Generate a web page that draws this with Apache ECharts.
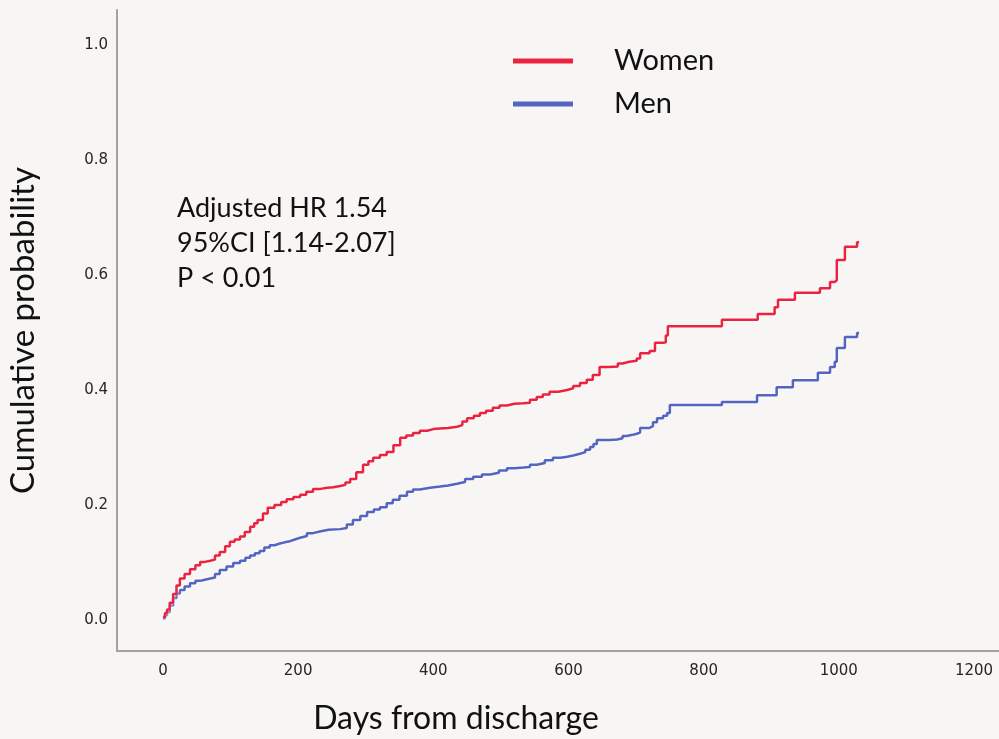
<!DOCTYPE html>
<html>
<head>
<meta charset="utf-8">
<script src="https://cdn.jsdelivr.net/npm/echarts@6/dist/echarts.min.js"></script>
<style>
  html, body { margin: 0; padding: 0; background: #f8f6f4; }
  #chart { width: 999px; height: 739px; }
</style>
</head>
<body>
<div id="chart"></div>
<script>
// ---- Data ----
const seriesNames = ['Women', 'Men'];

const womenDays = [0,3,6,10,15,20,25,32,40,48,55,62,70,77,84,92,99,106,114,121,129,135,140,148,155,165,175,183,193,203,212,222,233,243,252,262,270,277,286,296,304,311,321,331,341,351,360,370,380,391,400,410,422,435,443,450,460,469,478,488,498,509,520,533,543,553,562,572,585,598,607,617,627,636,646,660,673,680,690,701,706,720,728,740,744,747,827,880,905,910,935,972,987,994,997,1009,1027,1030];
const womenProb = [0.005,0.012,0.018,0.030,0.045,0.060,0.072,0.080,0.088,0.095,0.101,0.103,0.105,0.112,0.118,0.128,0.136,0.140,0.145,0.153,0.162,0.168,0.174,0.185,0.195,0.200,0.205,0.210,0.214,0.218,0.223,0.228,0.230,0.231,0.233,0.235,0.239,0.245,0.257,0.270,0.276,0.282,0.287,0.292,0.304,0.317,0.321,0.325,0.329,0.332,0.333,0.334,0.336,0.339,0.345,0.351,0.355,0.360,0.364,0.369,0.373,0.376,0.377,0.378,0.383,0.388,0.392,0.397,0.400,0.403,0.407,0.412,0.418,0.426,0.440,0.441,0.446,0.449,0.451,0.455,0.464,0.468,0.482,0.483,0.495,0.511,0.522,0.532,0.544,0.557,0.569,0.577,0.588,0.591,0.626,0.649,0.657,0.657];

const menDays = [0,3,6,10,15,20,25,32,40,48,55,62,70,77,84,94,104,114,122,129,136,143,150,158,165,173,180,188,195,203,213,222,232,245,262,272,281,292,302,312,321,331,340,350,361,370,380,395,410,422,435,447,459,472,484,497,509,520,533,543,553,565,577,588,598,607,617,625,632,637,642,660,672,680,686,695,701,706,720,725,731,740,746,750,827,879,908,932,969,987,994,997,1009,1027,1030];
const menProb = [0.003,0.008,0.014,0.025,0.038,0.046,0.052,0.058,0.064,0.068,0.070,0.072,0.074,0.080,0.087,0.093,0.099,0.103,0.108,0.112,0.116,0.120,0.126,0.130,0.133,0.135,0.137,0.140,0.143,0.146,0.151,0.154,0.157,0.158,0.160,0.166,0.174,0.181,0.188,0.192,0.196,0.203,0.209,0.216,0.223,0.227,0.230,0.232,0.234,0.237,0.240,0.245,0.249,0.253,0.256,0.260,0.264,0.265,0.266,0.270,0.273,0.278,0.282,0.284,0.286,0.289,0.292,0.296,0.301,0.306,0.313,0.314,0.316,0.320,0.322,0.324,0.326,0.334,0.337,0.344,0.351,0.355,0.360,0.374,0.379,0.391,0.405,0.417,0.430,0.440,0.449,0.473,0.492,0.499,0.499];

const xTicks = [0, 200, 400, 600, 800, 1000, 1200];
const yTicks = [0.0, 0.2, 0.4, 0.6, 0.8, 1.0];

const annotationLines = ['Adjusted HR 1.54', '95%CI [1.14-2.07]', 'P < 0.01'];
const xTitle = 'Days from discharge';
const yTitle = 'Cumulative probability';

// ---- Build ----
const zip = (xs, ys) => xs.map((x, i) => [x, ys[i]]);
const colors = ['#ea2440', '#5365c0'];

const chart = echarts.init(document.getElementById('chart'), null, { renderer: 'canvas' });

const tickFont = { fontFamily: 'DejaVu Sans', fontSize: 15, color: '#262626' };

chart.setOption({
  backgroundColor: '#f8f6f4',
  animation: false,
  grid: { left: 117, right: 0, top: 10, bottom: 88, containLabel: false, outerBoundsMode: 'none' },
  legend: {
    orient: 'vertical',
    left: 508,
    top: 40,
    itemWidth: 60,
    itemHeight: 5,
    itemGap: 11,
    icon: 'rect',
    data: seriesNames,
    textStyle: { fontFamily: 'Lato', fontSize: 29, color: '#111', padding: [0, 0, 0, 36], lineHeight: 32 }
  },
  xAxis: {
    type: 'value',
    min: -68,
    max: 1237,
    name: xTitle,
    nameLocation: 'middle',
    nameGap: 52,
    nameTextStyle: { fontFamily: 'Lato', fontSize: 32, color: '#111', padding: [0, 204, 0, 0] },
    axisLine: { show: true, onZero: false, lineStyle: { color: '#a2a2a2', width: 2 } },
    axisTick: { show: false },
    splitLine: { show: false },
    axisLabel: Object.assign({ customValues: xTicks, margin: 13, formatter: v => String(v) }, tickFont)
  },
  yAxis: {
    type: 'value',
    min: -0.054,
    max: 1.061,
    name: yTitle,
    nameLocation: 'middle',
    nameGap: 77,
    nameRotate: 90,
    nameTextStyle: { fontFamily: 'Lato', fontSize: 33, color: '#111' },
    axisLine: { show: true, onZero: false, lineStyle: { color: '#a2a2a2', width: 2 } },
    axisTick: { show: false },
    splitLine: { show: false },
    axisLabel: Object.assign({ customValues: yTicks, margin: 9, formatter: v => v.toFixed(1) }, tickFont)
  },
  graphic: [{
    type: 'text',
    left: 177,
    top: 191,
    style: {
      text: annotationLines.join('\n'),
      font: '27px Lato',
      lineHeight: 35,
      fill: '#111'
    }
  }],
  series: [
    {
      name: seriesNames[0],
      type: 'line',
      step: 'end',
      showSymbol: false,
      color: colors[0],
      lineStyle: { width: 2.5, color: colors[0], shadowColor: 'rgba(255,255,255,0.9)', shadowBlur: 3 },
      data: zip(womenDays, womenProb),
      z: 3
    },
    {
      name: seriesNames[1],
      type: 'line',
      step: 'end',
      showSymbol: false,
      color: colors[1],
      lineStyle: { width: 2.5, color: colors[1], shadowColor: 'rgba(255,255,255,0.9)', shadowBlur: 3 },
      data: zip(menDays, menProb),
      z: 2
    }
  ]
});
</script>
</body>
</html>
